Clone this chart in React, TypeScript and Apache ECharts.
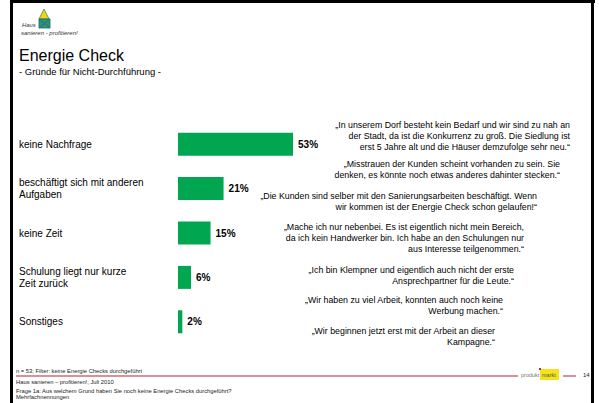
import React, { useEffect, useRef } from "react";
import * as echarts from "echarts";

const categories = [
  "keine Nachfrage",
  "beschäftigt sich mit anderen\nAufgaben",
  "keine Zeit",
  "Schulung liegt nur kurze\nZeit zurück",
  "Sonstiges",
];
const values = [53, 21, 15, 6, 2];

const quotes = [
  [
    "„In unserem Dorf besteht kein Bedarf und wir sind zu nah an",
    "der Stadt, da ist die Konkurrenz zu groß. Die Siedlung ist",
    "erst 5 Jahre alt und die Häuser demzufolge sehr neu.“",
  ],
  [
    "„Misstrauen der Kunden scheint vorhanden zu sein. Sie",
    "denken, es könnte noch etwas anderes dahinter stecken.“",
  ],
  [
    "„Die Kunden sind selber mit den Sanierungsarbeiten beschäftigt. Wenn",
    "wir kommen ist der Energie Check schon gelaufen!“",
  ],
  [
    "„Mache ich nur nebenbei. Es ist eigentlich nicht mein Bereich,",
    "da ich kein Handwerker bin. Ich habe an den Schulungen nur",
    "aus Interesse teilgenommen.“",
  ],
  [
    "„Ich bin Klempner und eigentlich auch nicht der erste",
    "Ansprechpartner für die Leute.“",
  ],
  [
    "„Wir haben zu viel Arbeit, konnten auch noch keine",
    "Werbung machen.“",
  ],
  [
    "„Wir beginnen jetzt erst mit der Arbeit an dieser",
    "Kampagne.“",
  ],
];
const quoteRight = [570, 560, 537, 524, 514, 503, 495];
const quoteTop = [120, 159, 191, 222, 265, 295, 326];

const title = "Energie Check";
const subtitle = "- Gründe für Nicht-Durchführung -";
const footerLines = [
  "n = 53; Filter: keine Energie Checks durchgeführt",
  "Haus sanieren – profitieren!, Juli 2010",
  "Frage 1a: Aus welchem Grund haben Sie noch keine Energie Checks durchgeführt?",
  "Mehrfachnennungen",
];
const pageNumber = "14";

const FONT = "'Liberation Sans', Arial, Helvetica, sans-serif";
const GREEN = "#00A650";
const RED = "#B5232B";

function txt(x: number, y: number, text: string, size: number, opts: any = {}) {
  return {
    type: "text",
    x,
    y,
    silent: true,
    style: {
      text,
      fill: opts.fill || "#000",
      fontSize: size,
      fontFamily: opts.family || FONT,
      fontWeight: opts.weight || "normal",
      fontStyle: opts.style || "normal",
      textAlign: opts.align || "left",
      align: opts.align || "left",
      textVerticalAlign: opts.valign || "middle",
      verticalAlign: opts.valign || "middle",
      lineHeight: opts.lineHeight,
    },
  };
}

export default function App() {
  const ref = useRef<HTMLDivElement>(null);
  useEffect(() => {
    if (!ref.current) return;
    const chart = echarts.init(ref.current, undefined, { renderer: "svg" });

    const graphics: any[] = [];
    // frame
    graphics.push({ type: "rect", shape: { x: 10, y: 0, width: 585, height: 3 }, style: { fill: "#000" }, silent: true });
    graphics.push({ type: "rect", shape: { x: 10, y: 0, width: 3, height: 403 }, style: { fill: "#000" }, silent: true });
    graphics.push({ type: "rect", shape: { x: 591, y: 0, width: 3, height: 403 }, style: { fill: "#000" }, silent: true });

    // logo
    graphics.push({ type: "polygon", shape: { points: [[44, 9], [39, 19], [49, 19]] }, style: { fill: "#F7D117", stroke: "#3A8F3A", lineWidth: 0.8 }, silent: true });
    graphics.push({ type: "rect", shape: { x: 39, y: 19, width: 11, height: 9 }, style: { fill: "#2E9E4A", stroke: "#1E5E8C", lineWidth: 0.8 }, silent: true });
    graphics.push({ type: "polyline", shape: { points: [[39, 19], [50, 28]] }, style: { stroke: "#2A6FB5", lineWidth: 1.2 }, silent: true });
    graphics.push({ type: "polyline", shape: { points: [[50, 19], [39, 28]] }, style: { stroke: "#2A6FB5", lineWidth: 1.2 }, silent: true });
    graphics.push(txt(22, 25, "Haus", 5.8, { style: "italic", fill: "#333" }));
    graphics.push(txt(21, 33, "sanieren - profitieren!", 6, { style: "italic", fill: "#333" }));

    // title
    graphics.push(txt(19, 55, title, 16));
    graphics.push(txt(19, 71, subtitle, 9.5));

    // quotes
    quotes.forEach((lines, i) => {
      graphics.push({
        type: "text",
        x: quoteRight[i],
        y: quoteTop[i],
        silent: true,
        style: {
          text: lines.join("\n"),
          fill: "#000",
          fontSize: 8.8,
          fontFamily: FONT,
          textAlign: "right",
          align: "right",
          textVerticalAlign: "top",
          verticalAlign: "top",
          lineHeight: 10.8,
        },
      });
    });

    // footer
    graphics.push(txt(16, 371, footerLines[0], 5.8, { fill: "#222" }));
    graphics.push({ type: "line", shape: { x1: 16, y1: 376, x2: 518, y2: 376 }, style: { stroke: RED, lineWidth: 1 }, silent: true });
    graphics.push({ type: "line", shape: { x1: 563, y1: 376, x2: 576, y2: 376 }, style: { stroke: RED, lineWidth: 1 }, silent: true });
    graphics.push(txt(16, 382, footerLines[1], 5.8, { fill: "#222" }));
    graphics.push(txt(16, 391, footerLines[2], 5.8, { fill: "#222" }));
    graphics.push(txt(16, 397, footerLines[3], 5.8, { fill: "#222" }));
    graphics.push({ type: "rect", shape: { x: 540, y: 369, width: 19, height: 11 }, style: { fill: "#F5E21A" }, silent: true });
    graphics.push({ type: "rect", shape: { x: 539, y: 368, width: 2, height: 2 }, style: { fill: "#D0202A" }, silent: true });
    graphics.push(txt(521, 375, "produkt", 5.5, { fill: "#777" }));
    graphics.push(txt(542, 375, "markt", 5.5, { fill: "#555" }));
    graphics.push(txt(583, 375, pageNumber, 6, { fill: "#222" }));

    chart.setOption({
      animation: false,
      backgroundColor: "#fff",
      grid: { left: 178, top: 122, width: 217, height: 222, containLabel: false },
      xAxis: {
        type: "value",
        min: 0,
        max: 100,
        show: false,
      },
      yAxis: {
        type: "category",
        data: categories,
        inverse: true,
        axisLine: { show: false },
        axisTick: { show: false },
        splitLine: { show: false },
        axisLabel: {
          align: "left",
          margin: 159,
          fontSize: 10,
          fontFamily: FONT,
          color: "#000",
          lineHeight: 12,
        },
      },
      series: [
        {
          type: "bar",
          data: values,
          barWidth: 23,
          itemStyle: { color: GREEN },
          label: {
            show: true,
            position: "right",
            distance: 5,
            formatter: "{c}%",
            fontSize: 10,
            fontWeight: "bold",
            fontFamily: FONT,
            color: "#000",
          },
        },
      ],
      graphic: graphics,
    });
    return () => chart.dispose();
  }, []);
  return (
    <div
      ref={ref}
      style={{ position: "fixed", left: 0, top: 0, width: 599, height: 403, background: "#fff" }}
    />
  );
}
